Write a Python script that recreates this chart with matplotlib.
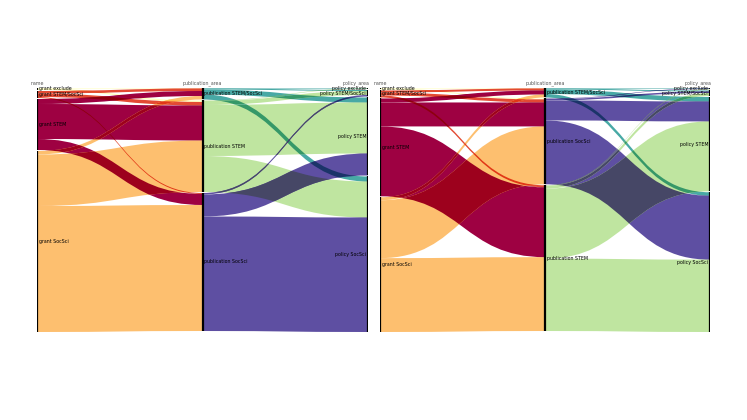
import numpy as np
import matplotlib.pyplot as plt
from matplotlib.path import Path
from matplotlib.patches import PathPatch
from matplotlib.colors import to_rgb

# node names per column
grant_names = ["grant exclude", "grant STEM/SocSci", "grant STEM", "grant SocSci"]
pub_names_left = ["publication STEM/SocSci", "publication STEM", "publication SocSci"]
pub_names_right = ["publication STEM/SocSci", "publication SocSci", "publication STEM"]
policy_names = ["policy exclude", "policy STEM/SocSci", "policy STEM", "policy SocSci"]
column_titles = ["name", "publication_area", "policy_area"]

# flows, rows = source node, cols = target node (same order as the name lists)
left_grant_pub = [[0.5, 1.5, 0],
                  [2.5, 3.5, 1],
                  [5, 35, 11],
                  [3.5, 51.5, 126]]
left_pub_policy = [[0.5, 1, 5, 5],
                   [0.5, 4, 51, 36],
                   [0, 1.5, 22, 114.5]]
right_grant_pub = [[0.5, 1, 0],
                   [2, 3, 2],
                   [4, 24, 70],
                   [3, 58, 74]]
right_pub_policy = [[0.5, 1, 4.5, 3.5],
                    [0.5, 1.5, 20, 64],
                    [0.5, 3, 70, 72.5]]

grant_colors = ["#ffffbf", "#e34a33", "#9e0142", "#fdbf6f"]
pub_color = {"publication STEM/SocSci": "#48a9a5",
             "publication STEM": "#bfe5a0",
             "publication SocSci": "#5e4fa2"}

GAP = 1.0
FS = 3.4


def tops(sizes):
    out, y = [], 0.0
    for s in sizes:
        out.append(y)
        y += s + GAP
    return out


def ribbon_path(x0, x1, a0, b0, a1, b1):
    xm = (x0 + x1) / 2
    verts = [(x0, a0), (xm, a0), (xm, a1), (x1, a1),
             (x1, b1), (xm, b1), (xm, b0), (x0, b0), (x0, a0)]
    codes = [Path.MOVETO, Path.CURVE4, Path.CURVE4, Path.CURVE4,
             Path.LINETO, Path.CURVE4, Path.CURVE4, Path.CURVE4, Path.CLOSEPOLY]
    return Path(verts, codes)


def draw_flows(ax, m, x0, x1, src_sizes, dst_sizes, colors):
    m = np.array(m, dtype=float)
    st, dt = tops(src_sizes), tops(dst_sizes)
    # incoming offsets, stacked by source order
    din = np.zeros(m.shape)
    for j in range(m.shape[1]):
        y = dt[j]
        for i in range(m.shape[0]):
            din[i, j] = y
            y += m[i, j]
    drawn = []
    for i in range(m.shape[0]):
        y = st[i]
        for j in range(m.shape[1]):
            v = m[i, j]
            if v <= 0:
                continue
            p = ribbon_path(x0, x1, y, y + v, din[i, j], din[i, j] + v)
            c = np.array(to_rgb(colors[i]))
            ax.add_patch(PathPatch(p, facecolor=c, edgecolor="none", lw=0))
            # multiply blend where ribbons cross
            for q, qc in drawn:
                if np.allclose(qc, c):
                    continue
                pp = PathPatch(p, facecolor=c * qc, edgecolor="none", lw=0)
                ax.add_patch(pp)
                pp.set_clip_path(q, ax.transData)
            drawn.append((p, c))
            y += v


def draw_nodes(ax, x, sizes, names, side):
    for t, s, n in zip(tops(sizes), sizes, names):
        ax.plot([x, x], [t, t + s], color="black", lw=1.6, solid_capstyle="butt")
        if side == "right":
            ax.text(x + 0.012, t + s / 2, n, fontsize=FS, ha="left", va="center")
        else:
            ax.text(x - 0.012, t + s / 2, n, fontsize=FS, ha="right", va="center")


def draw_panel(ax, grant_pub, pub_policy, pub_names):
    gp = np.array(grant_pub, dtype=float)
    pp = np.array(pub_policy, dtype=float)
    g_sizes = gp.sum(axis=1)
    p_sizes = gp.sum(axis=0)
    c_sizes = pp.sum(axis=0)
    draw_flows(ax, gp, 0, 1, g_sizes, p_sizes, grant_colors)
    draw_flows(ax, pp, 1, 2, p_sizes, c_sizes, [pub_color[n] for n in pub_names])
    draw_nodes(ax, 0, g_sizes, grant_names, "right")
    draw_nodes(ax, 1, p_sizes, pub_names, "right")
    draw_nodes(ax, 2, c_sizes, policy_names, "left")
    total = g_sizes.sum() + GAP * (len(g_sizes) - 1)
    ax.text(0, -4.5, column_titles[0], fontsize=FS, color="#555555", ha="center", va="center")
    ax.text(1, -4.5, column_titles[1], fontsize=FS, color="#555555", ha="center", va="center")
    ax.text(2.01, -4.5, column_titles[2], fontsize=FS, color="#555555", ha="right", va="center")
    ax.set_xlim(0, 2)
    ax.set_ylim(total, 0)
    ax.axis("off")


fig = plt.figure(figsize=(7.47, 4.2), dpi=100)
ax1 = fig.add_axes([37 / 747, 88 / 420, 331 / 747, 244 / 420])
ax2 = fig.add_axes([380 / 747, 88 / 420, 330 / 747, 244 / 420])
draw_panel(ax1, left_grant_pub, left_pub_policy, pub_names_left)
draw_panel(ax2, right_grant_pub, right_pub_policy, pub_names_right)

fig.savefig("out.png", dpi=100)
